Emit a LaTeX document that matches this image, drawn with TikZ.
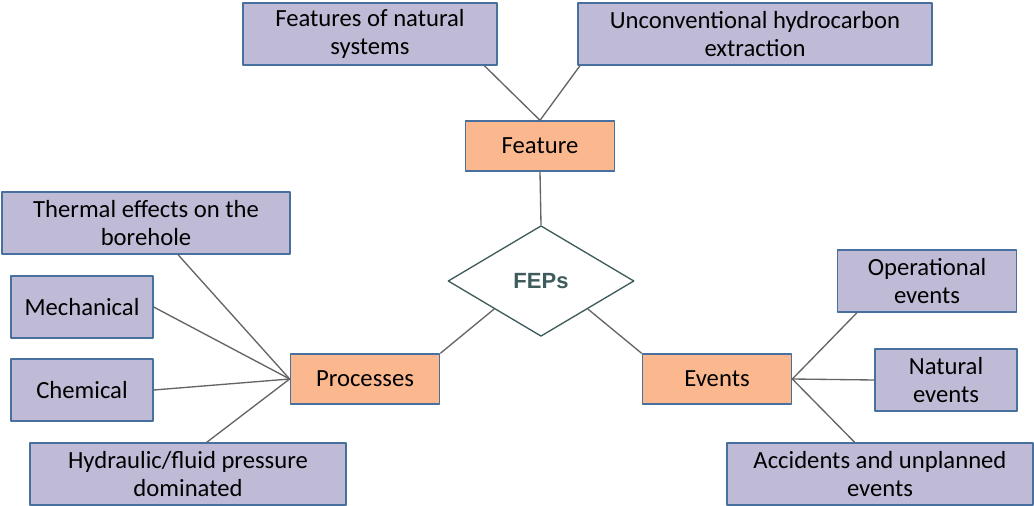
\documentclass[tikz,border=0pt]{standalone}
\usepackage{fontspec}
\setmainfont{Carlito}
\newfontfamily\fepfont{Liberation Sans}
\usetikzlibrary{shapes.geometric}

\definecolor{leaffill}{RGB}{191,187,214}
\definecolor{leafline}{RGB}{72,112,158}
\definecolor{catfill}{RGB}{251,184,143}
\definecolor{fepline}{RGB}{62,92,92}
\definecolor{linkgray}{RGB}{100,100,100}

\tikzset{
  leaf/.style={draw=leafline, line width=1pt, fill=leaffill, align=center,
    minimum height=46.5pt, inner sep=2pt, font=\fontsize{18.5}{21}\selectfont},
  cat/.style={draw=leafline, line width=1pt, fill=catfill, align=center,
    minimum height=37.5pt, minimum width=112pt, font=\fontsize{18.5}{21}\selectfont},
  link/.style={draw=linkgray, line width=1pt}
}

\begin{document}
\begin{tikzpicture}[x=0.75pt, y=-0.75pt, line join=round]
\useasboundingbox (0,0) rectangle (1034,506);
% centre diamond
\node[diamond, draw=fepline, line width=1pt, fill=white, minimum width=139.5pt,
  minimum height=83pt, inner sep=0pt, text=fepline,
  font=\fepfont\bfseries\fontsize{16.5}{18}\selectfont] (fep) at (541,281) {FEPs};
% top branch
\node[cat] (feature) at (540,146) {Feature};
\node[leaf, minimum width=190.5pt] (natsys) at (370,34) {Features of natural\\systems};
\node[leaf, minimum width=265.5pt] (unconv) at (755,34) {Unconventional hydrocarbon\\extraction};
% left branch
\node[cat] (proc) at (365,379) {Processes};
\node[leaf, minimum width=216pt] (thermal) at (146,223) {Thermal effects on the\\borehole};
\node[leaf, minimum width=106.5pt] (mech) at (82,307) {Mechanical};
\node[leaf, minimum width=106.5pt] (chem) at (82,390) {Chemical};
\node[leaf, minimum width=237pt] (hydr) at (188,474) {Hydraulic/fluid pressure\\dominated};
% right branch
\node[cat] (events) at (717,379) {Events};
\node[leaf, minimum width=134pt] (oper) at (927,281) {Operational\\events};
\node[leaf, minimum width=106.5pt] (natev) at (946,380) {Natural\\events};
\node[leaf, minimum width=229.5pt] (accid) at (880,474) {Accidents and unplanned\\events};
% links
\draw[link] (feature.north) -- ([xshift=-10pt]natsys.south east);
\draw[link] (feature.north) -- ([xshift=2pt]unconv.south west);
\draw[link] (feature.south) -- (fep.north);
\draw[link] (fep.south west) -- (proc.north east);
\draw[link] (fep.south east) -- (events.north west);
\draw[link] (proc.west) -- ([xshift=24pt]thermal.south);
\draw[link] (proc.west) -- (mech.east);
\draw[link] (proc.west) -- (chem.east);
\draw[link] (proc.west) -- ([xshift=14pt]hydr.north);
\draw[link] (events.east) -- ([xshift=15pt]oper.south west);
\draw[link] (events.east) -- (natev.west);
\draw[link] (events.east) -- ([xshift=-19pt]accid.north);
\end{tikzpicture}
\end{document}
